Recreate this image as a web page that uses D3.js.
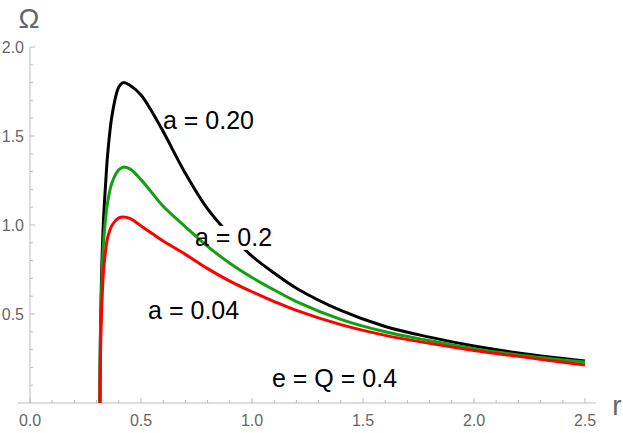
<!DOCTYPE html>
<html><head><meta charset="utf-8">
<script src="https://cdn.jsdelivr.net/npm/d3@7"></script>
<style>body{margin:0;background:#fff}svg{display:block}</style>
</head><body>
<script>
const rVals   = [0.315,0.316,0.318,0.322,0.33,0.34,0.35,0.37,0.40,0.42,0.45,0.50,0.55,0.60,0.70,0.80,0.90,1.0,1.1,1.2,1.4,1.6,1.8,2.0,2.2,2.5];
const omegaA020 = [0,0.25,0.45,0.70,1.00,1.22,1.40,1.62,1.775,1.80,1.785,1.73,1.635,1.525,1.29,1.09,0.945,0.825,0.73,0.645,0.52,0.43,0.37,0.32,0.281,0.236];
const omegaA02  = [0,0.22,0.42,0.62,0.88,1.03,1.13,1.24,1.31,1.325,1.315,1.255,1.18,1.105,0.99,0.88,0.785,0.705,0.635,0.57,0.47,0.40,0.35,0.305,0.27,0.23];
const omegaA004 = [0,0.15,0.32,0.50,0.72,0.85,0.93,1.00,1.04,1.045,1.037,0.995,0.952,0.91,0.835,0.755,0.685,0.625,0.57,0.52,0.44,0.38,0.335,0.295,0.262,0.213];
const xTicks = [0.0,0.5,1.0,1.5,2.0,2.5];
const yTicks = [0.5,1.0,1.5,2.0];
const labels = [
  {text:"a = 0.20", r:0.599, w:1.59},
  {text:"a = 0.2", r:0.743, w:0.933, box:true},
  {text:"a = 0.04", r:0.532, w:0.522},
  {text:"e = Q = 0.4", r:1.09, w:0.14}
];

const W=623,H=433;
const svg=d3.select("body").append("svg").attr("width",W).attr("height",H);
const x=d3.scaleLinear().domain([0,2.5]).range([30,585]);
const y=d3.scaleLinear().domain([0,2]).range([403,47]);
const axisCol="#bbb", txtCol="#666";
const font="'Liberation Sans', Arial, Helvetica, sans-serif";

svg.append("line").attr("x1",x(-0.054)).attr("x2",x(2.55)).attr("y1",y(0)).attr("y2",y(0)).attr("stroke",axisCol).attr("stroke-width",1);
svg.append("line").attr("x1",x(0)).attr("x2",x(0)).attr("y1",y(0)).attr("y2",y(2)).attr("stroke",axisCol).attr("stroke-width",1);
d3.range(0,26).forEach(i=>{const v=i/10;const major=i%5===0;
  svg.append("line").attr("x1",x(v)).attr("x2",x(v)).attr("y1",y(0)).attr("y2",y(0)-(major?5:3)).attr("stroke",axisCol);
});
d3.range(1,21).forEach(i=>{const v=i/10;const major=i%5===0;
  svg.append("line").attr("x1",x(0)).attr("x2",x(0)+(major?5:3)).attr("y1",y(v)).attr("y2",y(v)).attr("stroke",axisCol);
});
svg.selectAll(".xt").data(xTicks).enter().append("text").attr("x",d=>x(d)).attr("y",y(0)+23)
  .attr("text-anchor","middle").attr("font-family",font).attr("font-size",16).attr("fill",txtCol).text(d=>d.toFixed(1));
svg.selectAll(".yt").data(yTicks).enter().append("text").attr("x",x(0)-6).attr("y",d=>y(d)+6)
  .attr("text-anchor","end").attr("font-family",font).attr("font-size",16).attr("fill",txtCol).text(d=>d.toFixed(1));
svg.append("text").attr("x",29).attr("y",28).attr("text-anchor","middle").attr("font-family",font).attr("font-size",28).attr("fill",txtCol).text("Ω");
svg.append("text").attr("x",617).attr("y",415).attr("text-anchor","middle").attr("font-family",font).attr("font-size",28).attr("fill",txtCol).text("r");

const line=d3.line().x((d,i)=>x(rVals[i])).y(d=>y(d)).curve(d3.curveCatmullRom.alpha(0.5));
const draw=(vals,col)=>svg.append("path").datum(vals).attr("d",line).attr("fill","none").attr("stroke",col).attr("stroke-width",3).attr("stroke-linejoin","round");

draw(omegaA020,"#000");
const tg=svg.append("g");
const boxes=svg.append("g");
draw(omegaA02,"#10a010");
draw(omegaA004,"#ff0000");
labels.forEach(l=>{
  const t=tg.append("text").attr("x",x(l.r)).attr("y",y(l.w)+9).attr("font-family",font).attr("font-size",25).attr("fill","#000").text(l.text);
  if(l.box){const b=t.node().getBBox();boxes.append("rect").attr("x",b.x).attr("y",b.y+3).attr("width",b.width).attr("height",b.height-4).attr("fill","#fff");}
});
tg.raise();
</script>
</body></html>
